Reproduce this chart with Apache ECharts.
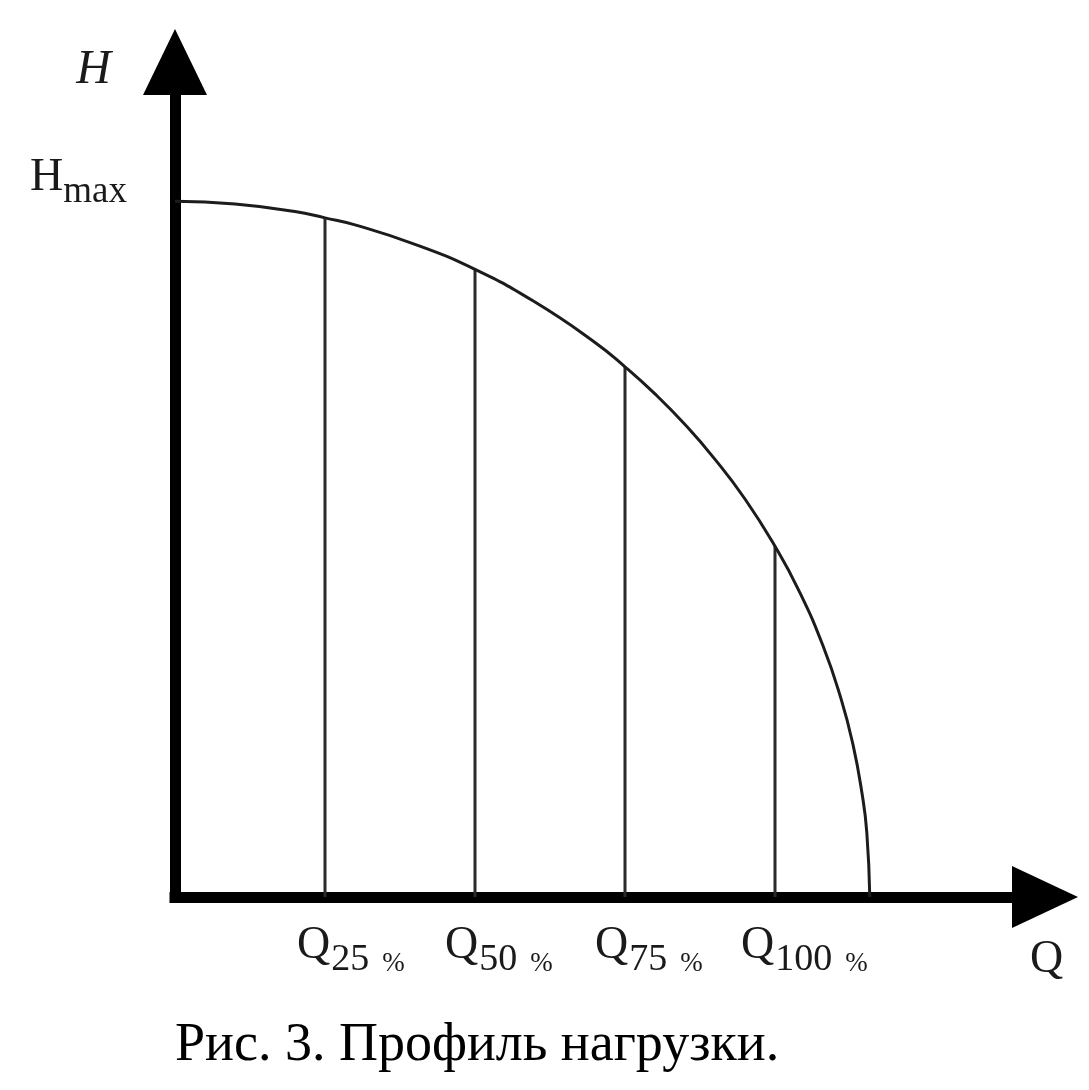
<!DOCTYPE html>
<html>
<head>
<meta charset="utf-8">
<script src="https://cdn.jsdelivr.net/npm/echarts@6/dist/echarts.min.js"></script>
<style>
html,body{margin:0;padding:0;background:#fff;}
#c{width:1089px;height:1090px;}
</style>
</head>
<body>
<div id="c"></div>
<script>
// Curve H(Q), Q in % of nominal, H in % of Hmax
var curveQ = [0, 10, 20, 25, 30, 40, 50, 60, 70, 75, 80, 85, 90, 95, 100, 104, 108, 111, 113, 114.5, 115.3, 115.8];
var curveH = [100, 99.6, 98.5, 97.6, 96.6, 93.8, 90.2, 85.5, 79.7, 76.2, 72.3, 67.9, 62.9, 57.2, 50.4, 44.0, 36.1, 28.5, 21.9, 14.9, 9.3, 0];
// Operating points
var markQ = [25, 50, 75, 100];
var markH = [97.6, 90.2, 76.2, 50.4];
var markLabels = ['25 %', '50 %', '75 %', '100 %'];
var hMaxValue = 100;
var axisMaxQ = 145;
var axisMaxH = 120;

var chart = echarts.init(document.getElementById('c'), null, {renderer: 'canvas'});

var serif = '"Liberation Serif", "Times New Roman", serif';
var labelColor = '#1a1a1a';

var curveData = curveQ.map(function (q, i) { return [q, curveH[i]]; });

var series = [];
series.push({
  type: 'line',
  data: curveData,
  smooth: 0.5,
  showSymbol: false,
  symbol: 'none',
  lineStyle: {color: '#1c1c1c', width: 3},
  z: 3,
  silent: true
});
markQ.forEach(function (q, i) {
  series.push({
    type: 'line',
    data: [[q, 0], [q, markH[i]]],
    showSymbol: false,
    symbol: 'none',
    lineStyle: {color: '#2a2a2a', width: 3},
    z: 2,
    silent: true
  });
});
// Q labels under the axis
var labelShift = [-28, -30, -30, -34];
series.push({
  type: 'scatter',
  data: markQ.map(function (q, i) {
    return {value: [q, 0], label: {position: [labelShift[i], 22]}};
  }),
  symbolSize: 0,
  silent: true,
  itemStyle: {opacity: 1},
  label: {
    show: true,
    position: [-30, 22],
    align: 'left',
    verticalAlign: 'top',
    color: labelColor,
    formatter: function (p) {
      var s = markLabels[p.dataIndex].split(' ');
      return '{q|Q}{s|' + s[0] + '}{p|' + s[1] + '}';
    },
    rich: {
      q: {fontFamily: serif, fontSize: 46, color: labelColor, verticalAlign: 'bottom', padding: [0, 0, 10, 0], lineHeight: 60},
      s: {fontFamily: serif, fontSize: 38, color: labelColor, verticalAlign: 'bottom', padding: [0, 0, 0, 1], lineHeight: 60},
      p: {fontFamily: serif, fontSize: 27, color: labelColor, verticalAlign: 'bottom', padding: [0, 0, 2, 13], lineHeight: 60}
    }
  }
});
// Hmax label
series.push({
  type: 'scatter',
  data: [[0, hMaxValue]],
  symbolSize: 0,
  silent: true,
  itemStyle: {opacity: 1},
  label: {
    show: true,
    position: [-48, -50],
    align: 'right',
    verticalAlign: 'top',
    color: labelColor,
    formatter: '{h|H}{m|max}',
    rich: {
      h: {fontFamily: serif, fontSize: 46, color: labelColor, verticalAlign: 'bottom', padding: [0, 0, 10, 0], lineHeight: 60},
      m: {fontFamily: serif, fontSize: 37, color: labelColor, verticalAlign: 'bottom', lineHeight: 60}
    }
  }
});

chart.setOption({
  animation: false,
  backgroundColor: '#ffffff',
  title: {
    text: 'Рис. 3. Профиль нагрузки.',
    left: 170,
    top: 1014,
    textStyle: {fontFamily: serif, fontSize: 54, fontWeight: 'normal', color: '#000'}
  },
  grid: {left: 175, right: 44, top: 62, bottom: 193, containLabel: false, outerBoundsMode: 'none'},
  xAxis: {
    type: 'value',
    min: 0,
    max: axisMaxQ,
    name: 'Q',
    nameLocation: 'end',
    nameGap: -15,
    nameTextStyle: {fontFamily: serif, fontSize: 46, color: labelColor, align: 'left', verticalAlign: 'top', padding: [40, 0, 0, 0]},
    axisLine: {
      show: true,
      symbol: ['none', 'triangle'],
      symbolSize: [62, 66],
      lineStyle: {color: '#000', width: 11, cap: 'square'}
    },
    axisTick: {show: false},
    axisLabel: {show: false},
    splitLine: {show: false}
  },
  yAxis: {
    type: 'value',
    min: 0,
    max: axisMaxH,
    name: 'H',
    nameLocation: 'end',
    nameGap: -8,
    nameTextStyle: {fontFamily: serif, fontSize: 48, fontStyle: 'italic', color: labelColor, align: 'right', verticalAlign: 'middle', padding: [0, 64, 0, 0]},
    axisLine: {
      show: true,
      symbol: ['none', 'triangle'],
      symbolSize: [64, 66],
      lineStyle: {color: '#000', width: 11, cap: 'square'}
    },
    axisTick: {show: false},
    axisLabel: {show: false},
    splitLine: {show: false}
  },
  series: series
});
</script>
</body>
</html>
